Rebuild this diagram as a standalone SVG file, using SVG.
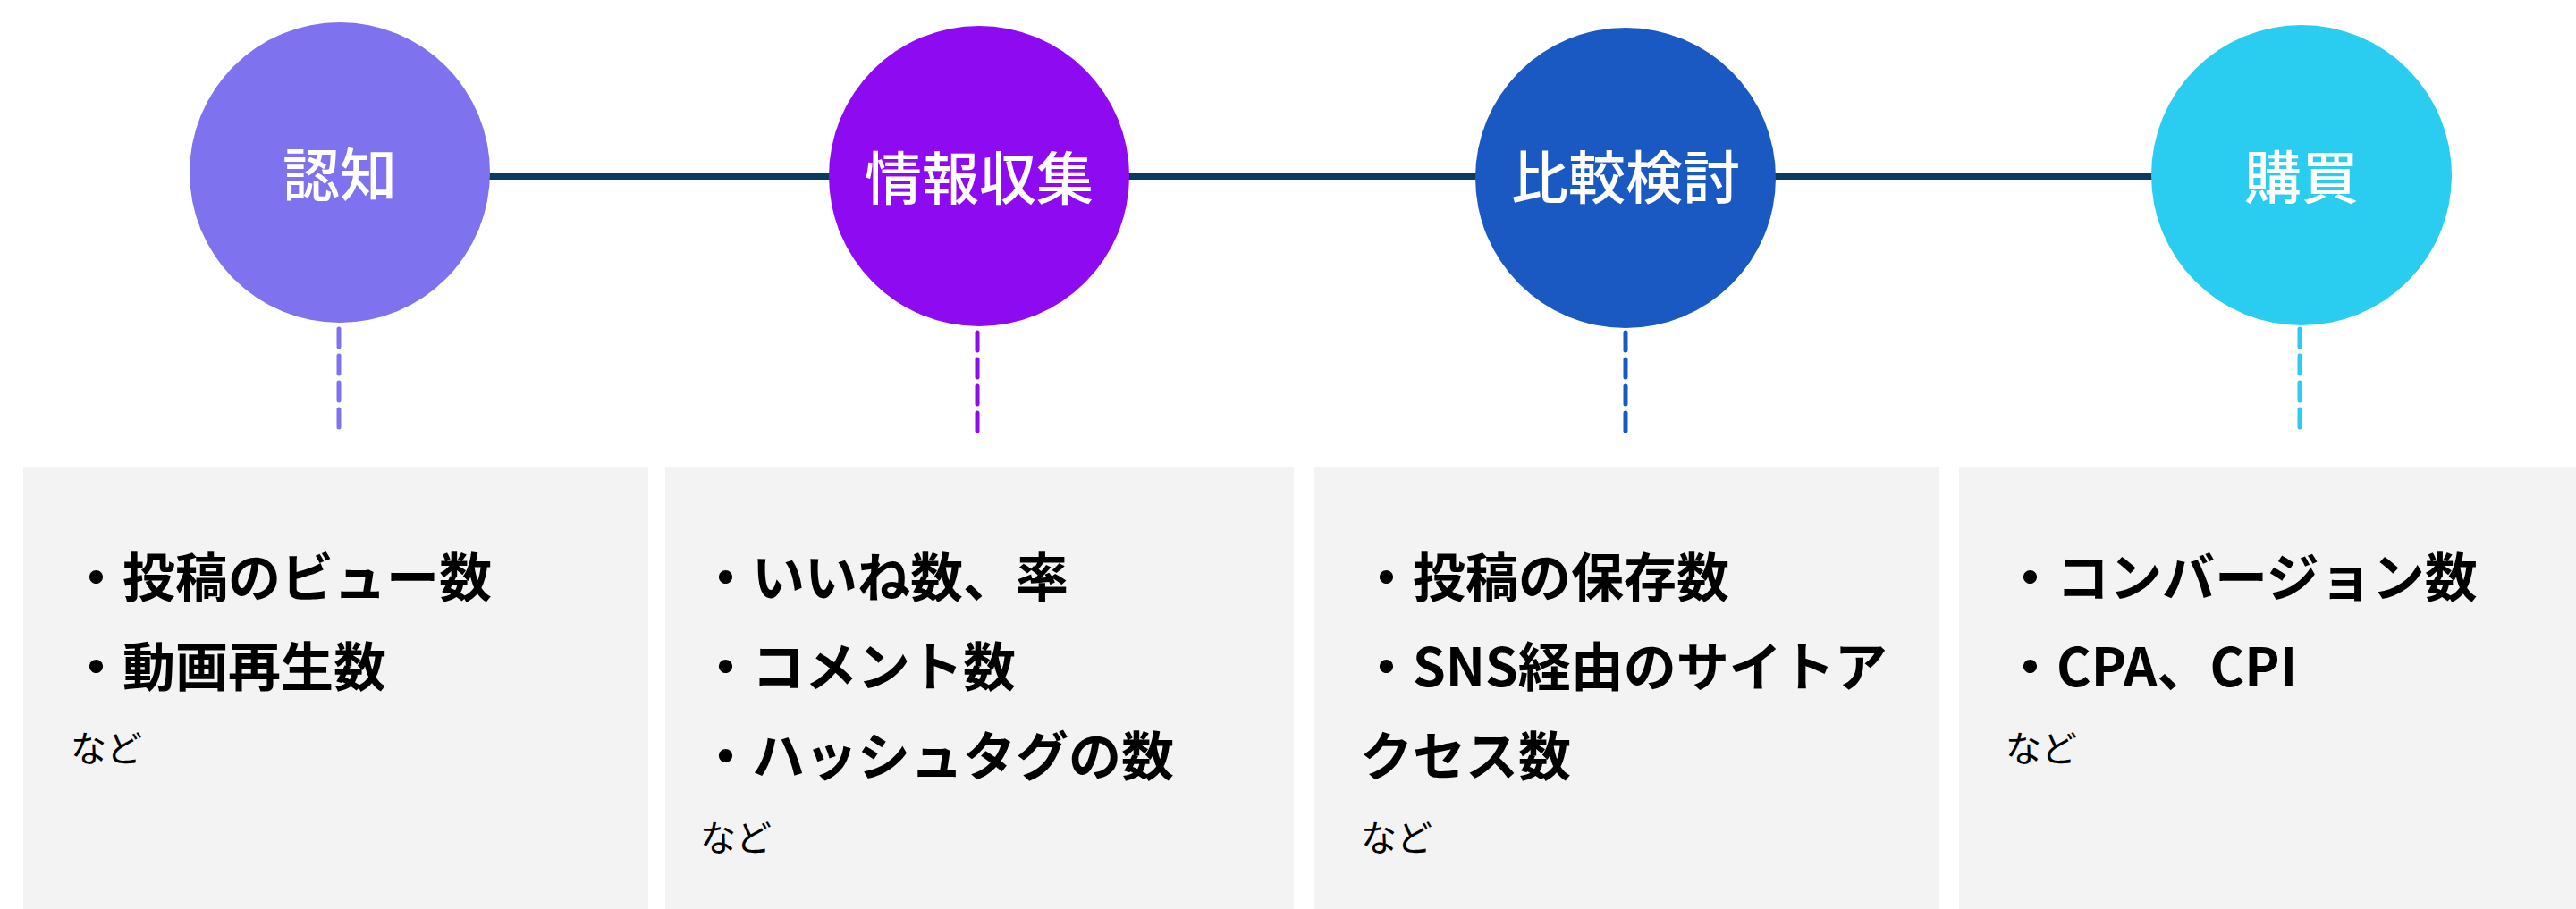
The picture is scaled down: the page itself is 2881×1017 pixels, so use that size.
<svg xmlns="http://www.w3.org/2000/svg" width="2881" height="1017" viewBox="0 0 2881 1017">
<style>
.lbl{font-family:"Noto Sans CJK JP","Noto Sans",sans-serif;font-size:64px;font-weight:500;fill:#ffffff;text-anchor:middle}
.item{font-family:"Noto Sans CJK JP","Noto Sans",sans-serif;font-size:59px;font-weight:700;fill:#000000}
.etc{font-family:"Noto Sans CJK JP","Noto Sans",sans-serif;font-size:40px;font-weight:400;fill:#000000}
.box{fill:#f3f3f3}
.dash{stroke-width:5;stroke-dasharray:20 10;stroke-linecap:round;fill:none}
</style>
<rect x="0" y="0" width="2881" height="1017" fill="#ffffff"/>
<g id="connectors">
<line x1="540" y1="197" x2="2420" y2="197" stroke="#0b3b5e" stroke-width="8"/>
<line class="dash" x1="379" y1="368" x2="379" y2="480" stroke="#7f72ee"/>
<line class="dash" x1="1093" y1="372" x2="1093" y2="484" stroke="#8e0af1"/>
<line class="dash" x1="1818" y1="372" x2="1818" y2="484" stroke="#1b59c2"/>
<line class="dash" x1="2572" y1="368" x2="2572" y2="480" stroke="#2acdef"/>
</g>
<g id="node-ninchi">
<circle cx="380" cy="193" r="168" fill="#7f72ee"/>
<text class="lbl" x="380" y="219">認知</text>
</g>
<g id="node-joho">
<circle cx="1095" cy="197" r="168" fill="#8e0af1"/>
<text class="lbl" x="1095" y="223">情報収集</text>
</g>
<g id="node-hikaku">
<circle cx="1818" cy="199" r="168" fill="#1b59c2"/>
<text class="lbl" x="1818" y="222">比較検討</text>
</g>
<g id="node-kobai">
<circle cx="2574" cy="196" r="168" fill="#2acdef"/>
<text class="lbl" x="2574" y="222">購買</text>
</g>
<g id="box-ninchi">
<rect class="box" x="26" y="523" width="699" height="494"/>
<text class="item" x="78" y="668">・投稿のビュー数</text>
<text class="item" x="78" y="768">・動画再生数</text>
<text class="etc" x="79" y="852">など</text>
</g>
<g id="box-joho">
<rect class="box" x="744" y="523" width="703" height="494"/>
<text class="item" x="782" y="668">・いいね数、率</text>
<text class="item" x="782" y="768">・コメント数</text>
<text class="item" x="782" y="868">・ハッシュタグの数</text>
<text class="etc" x="783" y="952">など</text>
</g>
<g id="box-hikaku">
<rect class="box" x="1470" y="523" width="699" height="494"/>
<text class="item" x="1521" y="668">・投稿の保存数</text>
<text class="item" x="1521" y="768">・SNS経由のサイトア</text>
<text class="item" x="1521" y="868">クセス数</text>
<text class="etc" x="1522" y="952">など</text>
</g>
<g id="box-kobai">
<rect class="box" x="2191" y="523" width="690" height="494"/>
<text class="item" x="2241" y="668">・コンバージョン数</text>
<text class="item" x="2241" y="768">・CPA、CPI</text>
<text class="etc" x="2243" y="852">など</text>
</g>
</svg>
